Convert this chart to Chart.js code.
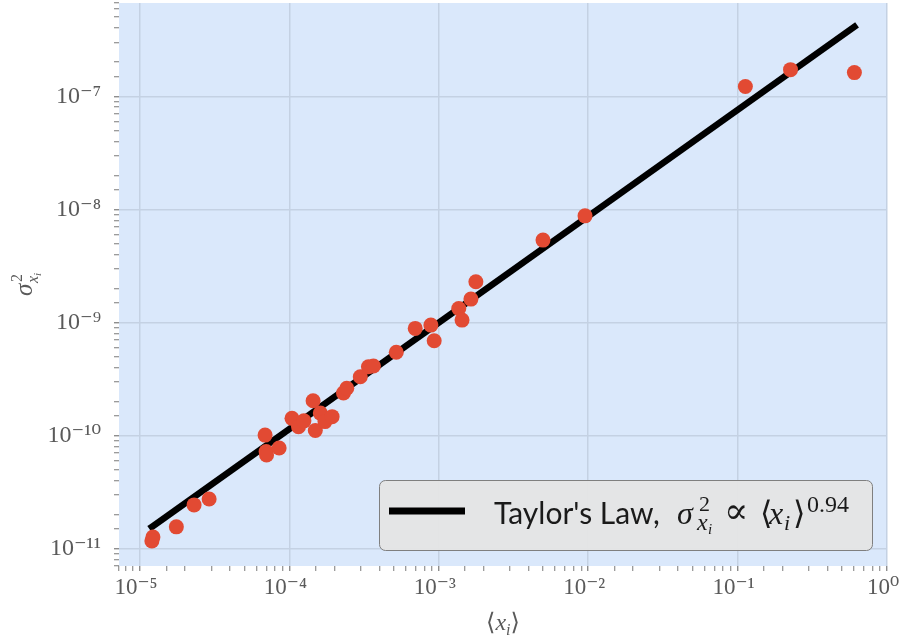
<!DOCTYPE html>
<html>
<head>
<meta charset="utf-8">
<script src="https://cdn.jsdelivr.net/npm/chart.js@4.4.1/dist/chart.umd.min.js"></script>
<style>
  html, body { margin: 0; padding: 0; background: #fff; }
  #wrap { width: 901px; height: 641px; }
</style>
</head>
<body>
<div id="wrap"><canvas id="chart" width="901" height="641"></canvas></div>
<script>
// Mean abundance <x_i> of each species and the variance of its abundance.
const meanAbundance = [
  1.22e-5, 1.20e-5, 1.75e-5, 2.30e-5, 2.90e-5,
  6.87e-5, 6.98e-5, 7.03e-5, 8.53e-5,
  1.04e-4, 1.15e-4, 1.25e-4, 1.44e-4, 1.49e-4, 1.61e-4, 1.73e-4, 1.93e-4,
  2.30e-4, 2.42e-4, 2.98e-4, 3.38e-4, 3.65e-4, 5.19e-4,
  6.95e-4, 8.85e-4, 9.31e-4, 1.36e-3, 1.43e-3, 1.64e-3, 1.77e-3,
  4.98e-3, 9.52e-3, 0.1127, 0.226, 0.605
];
const varianceAbundance = [
  1.27e-11, 1.17e-11, 1.56e-11, 2.44e-11, 2.75e-11,
  1.01e-10, 7.24e-11, 6.74e-11, 7.76e-11,
  1.42e-10, 1.20e-10, 1.35e-10, 2.03e-10, 1.11e-10, 1.58e-10, 1.33e-10, 1.47e-10,
  2.38e-10, 2.62e-10, 3.31e-10, 4.06e-10, 4.12e-10, 5.45e-10,
  8.87e-10, 9.48e-10, 6.89e-10, 1.33e-9, 1.05e-9, 1.61e-9, 2.29e-9,
  5.35e-9, 8.77e-9, 1.22e-7, 1.72e-7, 1.62e-7
];

// Fitted power law sigma^2 ~ <x>^0.94, drawn between the smallest and largest mean.
const fitMean = [1.20e-5, 0.605];
const fitVariance = [1.56e-11, 4.11e-7];
const fitExponent = '0.94';

// Decade tick labels.
const xDecades = [-5, -4, -3, -2, -1, 0];
const xTickLabels = ['10⁻⁵', '10⁻⁴', '10⁻³', '10⁻²', '10⁻¹', '10⁰'];
const yDecades = [-11, -10, -9, -8, -7];
const yTickLabels = ['10⁻¹¹', '10⁻¹⁰', '10⁻⁹', '10⁻⁸', '10⁻⁷'];

const PLOT_BG = 'rgb(218,232,251)';
const GRID = 'rgb(196,209,227)';
const TICK_COLOR = '#7a7a7a';
const LABEL_COLOR = '#5a5a5a';
const POINT_COLOR = '#e24a33';
const SERIF = '"Liberation Serif", "DejaVu Serif", serif';
const SYMBOL = '"DejaVu Serif", serif';
const SANS = 'Lato, "Open Sans", sans-serif';

const isDecade = v => Math.abs(Math.log10(v) - Math.round(Math.log10(v))) < 1e-6;
const labelFor = (v, decades, labels) => {
  if (!isDecade(v)) return '';
  const i = decades.indexOf(Math.round(Math.log10(v)));
  return i >= 0 ? labels[i] : '';
};

// Draws a sequence of text pieces (sub/superscripts via size and offset).
// A piece with `at` is placed at that offset from the start instead of flowing.
function drawRuns(ctx, runs, x, y, measureOnly) {
  let cx = x, end = x;
  for (const r of runs) {
    ctx.font = (r.italic ? 'italic ' : '') + r.size + 'px ' + r.family;
    const w = ctx.measureText(r.t).width;
    const px = r.at !== undefined ? x + r.at : cx;
    if (!measureOnly) ctx.fillText(r.t, px, y + (r.dy || 0));
    cx = px + w + (r.gap || 0);
    end = Math.max(end, px + w);
  }
  return end - x;
}

const plotBackground = {
  id: 'plotBackground',
  beforeDraw(chart) {
    const { ctx, chartArea: a } = chart;
    ctx.save();
    ctx.fillStyle = PLOT_BG;
    ctx.fillRect(a.left, a.top, a.right - a.left, a.bottom - a.top);
    ctx.restore();
  }
};

const axisTitles = {
  id: 'axisTitles',
  afterDraw(chart) {
    const { ctx, chartArea: a } = chart;
    ctx.save();
    ctx.fillStyle = LABEL_COLOR;
    ctx.textBaseline = 'alphabetic';
    // x title: <x_i>
    const xRuns = [
      { t: '⟨', size: 24, family: SERIF },
      { t: 'x', size: 24, family: SERIF, italic: true },
      { t: 'i', size: 16, family: SERIF, italic: true, dy: 5 },
      { t: '⟩', size: 24, family: SERIF }
    ];
    const xw = drawRuns(ctx, xRuns, 0, 0, true);
    drawRuns(ctx, xRuns, (a.left + a.right) / 2 - xw / 2, 630);
    // y title: sigma^2_{x_i}, rotated
    const yRuns = [
      { t: 'σ', size: 25, family: SERIF, italic: true },
      { t: '2', size: 16, family: SERIF, at: 14, dy: -10 },
      { t: 'x', size: 16, family: SERIF, italic: true, at: 13, dy: 6 },
      { t: 'i', size: 11, family: SERIF, italic: true, dy: 9 }
    ];
    const yw = drawRuns(ctx, yRuns, 0, 0, true);
    ctx.translate(32, (a.top + a.bottom) / 2);
    ctx.rotate(-Math.PI / 2);
    drawRuns(ctx, yRuns, -yw / 2, 0);
    ctx.restore();
  }
};

const lawLegend = {
  id: 'lawLegend',
  afterDraw(chart) {
    const { ctx, chartArea: a } = chart;
    const math = 183;
    const runs = [
      { t: "Taylor's Law,", size: 30, family: SANS, at: 0 },
      { t: 'σ', size: 32, family: SERIF, italic: true, at: math },
      { t: '2', size: 22, family: SERIF, at: math + 22, dy: -13 },
      { t: 'x', size: 24, family: SERIF, italic: true, at: math + 20, dy: 6 },
      { t: 'i', size: 15, family: SERIF, italic: true, at: math + 31, dy: 10 },
      { t: '∝', size: 36, family: SYMBOL, at: math + 47, dy: -1 },
      { t: '⟨', size: 32, family: SERIF, at: math + 83 },
      { t: 'x', size: 32, family: SERIF, italic: true, at: math + 92 },
      { t: 'i', size: 22, family: SERIF, italic: true, at: math + 107, dy: 6 },
      { t: '⟩', size: 32, family: SERIF, at: math + 116 },
      { t: fitExponent, size: 24, family: SERIF, at: math + 130, dy: -12 }
    ];
    ctx.save();
    const textW = drawRuns(ctx, runs, 0, 0, true);
    const padL = 10, handle = 76, handleGap = 29, padR = 23, h = 70;
    const w = padL + handle + handleGap + textW + padR;
    const right = a.right - 15, bottom = a.bottom - 16;
    const left = right - w, top = bottom - h;
    ctx.beginPath();
    ctx.roundRect(left + 0.5, top + 0.5, w, h, 6);
    ctx.fillStyle = 'rgba(229,229,229,0.95)';
    ctx.fill();
    ctx.strokeStyle = '#7f7f7f';
    ctx.lineWidth = 1;
    ctx.stroke();
    const midY = top + 31;
    ctx.beginPath();
    ctx.moveTo(left + padL, midY);
    ctx.lineTo(left + padL + handle, midY);
    ctx.strokeStyle = '#000';
    ctx.lineWidth = 7;
    ctx.stroke();
    ctx.fillStyle = '#1a1a1a';
    ctx.textBaseline = 'alphabetic';
    drawRuns(ctx, runs, left + padL + handle + handleGap, top + 44);
    ctx.restore();
  }
};

const points = meanAbundance.map((x, i) => ({ x, y: varianceAbundance[i] }));
const fitLine = fitMean.map((x, i) => ({ x, y: fitVariance[i] }));

const gridOpts = {
  color: c => (c.tick && isDecade(c.tick.value) ? GRID : 'transparent'),
  lineWidth: 1.5,
  tickColor: TICK_COLOR,
  tickLength: 5,
  tickWidth: c => (c.tick && isDecade(c.tick.value) ? 1.2 : 1),
  drawTicks: true
};

new Chart(document.getElementById('chart'), {
  type: 'scatter',
  data: {
    datasets: [
      {
        data: points,
        backgroundColor: POINT_COLOR,
        borderWidth: 0,
        pointRadius: 7.5,
        pointHoverRadius: 7.5,
        order: 0
      },
      {
        data: fitLine,
        showLine: true,
        borderColor: '#000',
        borderWidth: 6.5,
        borderCapStyle: 'square',
        pointRadius: 0,
        order: 1
      }
    ]
  },
  options: {
    responsive: false,
    animation: false,
    devicePixelRatio: 1,
    layout: { autoPadding: false, padding: { top: 3, right: 14, left: 0, bottom: 0 } },
    plugins: {
      legend: { display: false },
      tooltip: { enabled: false }
    },
    scales: {
      x: {
        type: 'logarithmic',
        min: 7.23e-6,
        max: 1,
        border: { display: false },
        grid: gridOpts,
        ticks: {
          autoSkip: false,
          maxRotation: 0,
          padding: 3,
          labelOffset: -4,
          color: LABEL_COLOR,
          font: { family: SERIF, size: 23 },
          callback: v => labelFor(v, xDecades, xTickLabels)
        },
        afterFit(scale) {
          scale.height = 75;
          scale.paddingLeft = 0;
          scale.paddingRight = 0;
        }
      },
      y: {
        type: 'logarithmic',
        min: 7.03e-12,
        max: 6.68e-7,
        border: { display: false },
        grid: gridOpts,
        ticks: {
          autoSkip: false,
          padding: 13,
          color: LABEL_COLOR,
          font: { family: SERIF, size: 24 },
          callback: v => labelFor(v, yDecades, yTickLabels)
        },
        afterFit(scale) {
          scale.width = 119;
          scale.paddingTop = 0;
          scale.paddingBottom = 0;
        }
      }
    }
  },
  plugins: [plotBackground, axisTitles, lawLegend]
});
</script>
</body>
</html>
